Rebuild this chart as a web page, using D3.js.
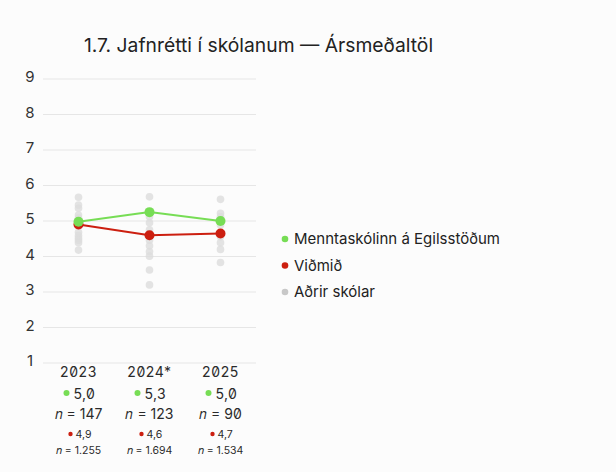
<!DOCTYPE html>
<html>
<head>
<meta charset="utf-8">
<script src="https://cdn.jsdelivr.net/npm/d3@7"></script>
<style>
  body { margin: 0; background: #fcfcfc; }
  svg { font-family: Inter, "Noto Sans", sans-serif; }
</style>
</head>
<body>
<svg id="chart"></svg>
<script>
var years = ["2023", "2024*", "2025"];
var schoolMeans = [4.98, 5.25, 5.0];
var benchMeans = [4.9, 4.6, 4.65];
var schoolLabels = ["5,0", "5,3", "5,0"];
var schoolN = ["147", "123", "90"];
var benchLabels = ["4,9", "4,6", "4,7"];
var benchN = ["1.255", "1.694", "1.534"];
var otherSchools = [
  [5.67, 5.45, 5.36, 5.17, 5.08, 4.96, 4.86, 4.68, 4.59, 4.52, 4.46, 4.39, 4.18],
  [5.68, 5.12, 4.95, 4.75, 4.65, 4.55, 4.46, 4.30, 4.14, 4.01, 3.62, 3.20],
  [5.61, 5.22, 5.12, 5.03, 4.89, 4.56, 4.39, 4.20, 3.83]
];
var yTicks = [1, 2, 3, 4, 5, 6, 7, 8, 9];
var legendItems = ["Menntaskólinn á Egilsstöðum", "Viðmið", "Aðrir skólar"];
var legendColors = ["#77dd55", "#cc1f10", "#c8c8c8"];

var width = 616, height = 472;
var svg = d3.select("#chart").attr("width", width).attr("height", height);

svg.append("text")
  .attr("x", 84).attr("y", 52)
  .attr("font-size", 19.3)
  .attr("fill", "#222")
  .text("1.7. Jafnrétti í skólanum — Ársmeðaltöl");

var x = d3.scaleBand().domain(years).range([43, 256]);
var y = d3.scaleLinear().domain([1, 9]).range([363, 79]);

// grid
svg.append("g").selectAll("line")
  .data(yTicks)
  .enter().append("line")
  .attr("x1", 43).attr("x2", 256)
  .attr("y1", function(d) { return y(d); })
  .attr("y2", function(d) { return y(d); })
  .attr("stroke", "#e6e6e6")
  .attr("stroke-width", 1);

svg.append("g").selectAll("text")
  .data(yTicks)
  .enter().append("text")
  .attr("x", 30)
  .attr("y", function(d) { return y(d) - 2; })
  .attr("text-anchor", "middle")
  .attr("dy", "0.35em")
  .attr("font-size", 15)
  .attr("fill", "#333")
  .text(function(d) { return d; });

function cx(i) { return x(years[i]) + x.bandwidth() / 2; }

// other schools
var others = [];
otherSchools.forEach(function(arr, i) {
  arr.forEach(function(v) { others.push({i: i, v: v}); });
});
svg.append("g").selectAll("circle")
  .data(others)
  .enter().append("circle")
  .attr("cx", function(d) { return cx(d.i); })
  .attr("cy", function(d) { return y(d.v); })
  .attr("r", 3.8)
  .attr("fill", "#dcdcdc")
  .attr("opacity", 0.8);

var line = d3.line()
  .x(function(d, i) { return cx(i); })
  .y(function(d) { return y(d); });

svg.append("path").datum(benchMeans)
  .attr("d", line).attr("fill", "none")
  .attr("stroke", legendColors[1]).attr("stroke-width", 2);
svg.append("g").selectAll("circle")
  .data(benchMeans).enter().append("circle")
  .attr("cx", function(d, i) { return cx(i); })
  .attr("cy", function(d) { return y(d); })
  .attr("r", 5).attr("fill", legendColors[1]);

svg.append("path").datum(schoolMeans)
  .attr("d", line).attr("fill", "none")
  .attr("stroke", legendColors[0]).attr("stroke-width", 2);
svg.append("g").selectAll("circle")
  .data(schoolMeans).enter().append("circle")
  .attr("cx", function(d, i) { return cx(i); })
  .attr("cy", function(d) { return y(d); })
  .attr("r", 5).attr("fill", legendColors[0]);

// table under the axis
var tbl = svg.append("g").attr("fill", "#2a2a2a").attr("font-weight", 400);
years.forEach(function(yr, i) {
  var c = cx(i);
  tbl.append("text").attr("x", c).attr("y", 377).attr("text-anchor", "middle")
    .attr("font-size", 14).attr("letter-spacing", 0.6)
    .style("font-feature-settings", "'zero' 1").text(yr);
  var g1 = tbl.append("g");
  g1.append("circle").attr("cx", c - 12).attr("cy", 393).attr("r", 3).attr("fill", legendColors[0]);
  g1.append("text").attr("x", c - 5).attr("y", 398.5).attr("font-size", 14)
    .attr("letter-spacing", 0.4)
    .style("font-feature-settings", "'zero' 1").text(schoolLabels[i]);
  tbl.append("text").attr("x", c).attr("y", 419).attr("text-anchor", "middle")
    .attr("font-size", 14)
    .style("font-feature-settings", "'zero' 1").text("𝑛 = " + schoolN[i]);
  tbl.append("circle").attr("cx", c - 8).attr("cy", 434).attr("r", 2.2).attr("fill", legendColors[1]);
  tbl.append("text").attr("x", c - 3).attr("y", 438).attr("font-size", 10.5).text(benchLabels[i]);
  tbl.append("text").attr("x", c).attr("y", 454).attr("text-anchor", "middle")
    .attr("font-size", 10.5).text("𝑛 = " + benchN[i]);
});

// legend
var legend = svg.append("g").selectAll("g")
  .data(legendItems).enter().append("g")
  .attr("transform", function(d, i) { return "translate(285," + (239 + i * 26.5) + ")"; });
legend.append("circle").attr("r", 3.3)
  .attr("fill", function(d, i) { return legendColors[i]; });
legend.append("text").attr("x", 9).attr("dy", "0.35em")
  .attr("font-size", 15).attr("fill", "#222")
  .text(function(d) { return d; });
</script>
</body>
</html>
